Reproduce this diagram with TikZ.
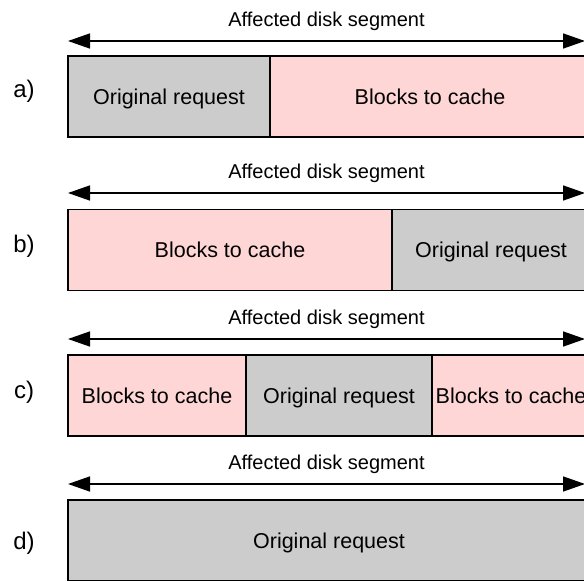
\documentclass[tikz,border=0pt]{standalone}
\usepackage{fontspec}
\setsansfont{Liberation Sans}
\usetikzlibrary{arrows.meta, positioning}
\definecolor{reqgray}{HTML}{CCCCCC}
\definecolor{cachepink}{HTML}{FFD6D6}
\tikzset{
  % cella generica di un segmento
  cell/.style={draw=black, line width=1.5pt, outer sep=0pt, inner sep=2pt,
    minimum height=81pt, text height=15.4pt, text depth=0pt,
    font=\sffamily\fontsize{21.5}{24}\selectfont},
  cell req/.style={cell, fill=reqgray},
  cell cache/.style={cell, fill=cachepink},
  % freccia del segmento interessato
  span/.style={{Triangle[length=22pt, width=15pt]}-{Triangle[length=22pt, width=15pt]},
    line width=1.5pt},
  % etichette
  lbl/.style={font=\sffamily\fontsize{20}{22}\selectfont, inner sep=0pt},
  rowlbl/.style={font=\sffamily\fontsize{24}{26}\selectfont, inner sep=0pt},
}
\begin{document}
\begin{tikzpicture}[x=1pt, y=-1pt]
  \useasboundingbox (0,0) rectangle (584,581);
  \clip (0,0) rectangle (584,581);
  \foreach \r/\y in {a/41, b/193, c/339, d/484} {
    \coordinate (\r l) at (68,\y);
    \coordinate (\r r) at (585,\y);
    \draw[span] (\r l) -- (\r r) node[lbl, midway, above=10pt] {Affected disk segment};
  }
  % a)
  \node[rowlbl] (ra) at (24,91.5) {a)};
  \node[cell req, minimum width=202pt, anchor=west] (a1) at (68,96.5) {Original request};
  \node[cell cache, minimum width=320pt, right=0pt of a1] (a2) {Blocks to cache};
  % b)
  \node[rowlbl] (rb) at (24,246) {b)};
  \node[cell cache, minimum width=324pt, anchor=west] (b1) at (68,250) {Blocks to cache};
  \node[cell req, minimum width=198pt, right=0pt of b1] (b2) {Original request};
  % c)
  \node[rowlbl] (rc) at (24,392) {c)};
  \node[cell cache, minimum width=178pt, anchor=west] (c1) at (68,395.5) {Blocks to cache};
  \node[cell req, minimum width=186pt, right=0pt of c1] (c2) {Original request};
  \node[cell cache, minimum width=158pt, right=0pt of c2] (c3) {Blocks to cache};
  % d)
  \node[rowlbl] (rd) at (24,543) {d)};
  \node[cell req, minimum width=522pt, anchor=west] (d1) at (68,540.5) {Original request};
\end{tikzpicture}
\end{document}
